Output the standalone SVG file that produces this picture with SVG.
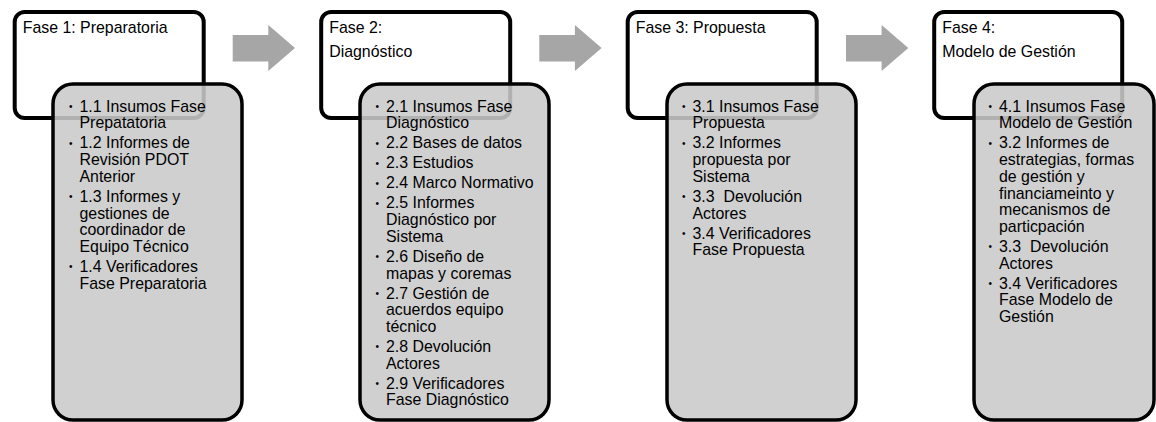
<svg xmlns="http://www.w3.org/2000/svg" width="1156" height="422" viewBox="0 0 1156 422">
<style>
.hdr{fill:#ffffff;stroke:#000000;stroke-width:4}
.lst{fill:#c9c9c9;fill-opacity:0.88;stroke:#000000;stroke-width:3.5}
text{font-family:"Liberation Sans",Arial,sans-serif;font-size:15.9px;fill:#000000;white-space:pre}
.b{font-size:10px}
.arr{fill:#a6a6a6;stroke:none}
</style>
<defs>
<polygon id="arrow" class="arr" points="0,35 35.6,35 35.6,25 62.3,48 35.6,71 35.6,61.5 0,61.5"/>
</defs>
<g id="connectors">
<use href="#arrow" x="232.7" y="0"/>
<use href="#arrow" x="539.3" y="0"/>
<use href="#arrow" x="846" y="0"/>
</g>
<g id="fase1">
<rect class="hdr" x="14.7" y="12" width="189" height="106" rx="10"/>
<text x="22.7" y="33">Fase 1: Preparatoria</text>
<rect class="lst" x="53" y="84" width="189" height="336" rx="20"/>
<text class="b" x="69" y="110">•</text><text x="79.5" y="111.7">1.1 Insumos Fase</text>
<text x="79.5" y="128.4">Prepatatoria</text>
<text class="b" x="69" y="146.6">•</text><text x="79.5" y="148.4">1.2 Informes de</text>
<text x="79.5" y="165.1">Revisión PDOT</text>
<text x="79.5" y="181.8">Anterior</text>
<text class="b" x="69" y="200">•</text><text x="79.5" y="201.8">1.3 Informes y</text>
<text x="79.5" y="218.5">gestiones de</text>
<text x="79.5" y="235.2">coordinador de</text>
<text x="79.5" y="251.9">Equipo Técnico</text>
<text class="b" x="69" y="270.1">•</text><text x="79.5" y="271.9">1.4 Verificadores</text>
<text x="79.5" y="288.6">Fase Preparatoria</text>
</g>
<g id="fase2">
<rect class="hdr" x="321.2" y="12" width="189" height="106" rx="10"/>
<text x="329.2" y="33">Fase 2:</text>
<text x="329.2" y="56.5">Diagnóstico</text>
<rect class="lst" x="360" y="84" width="189" height="336" rx="20"/>
<text class="b" x="375.5" y="110">•</text><text x="386" y="111.7">2.1 Insumos Fase</text>
<text x="386" y="128.4">Diagnóstico</text>
<text class="b" x="375.5" y="146.6">•</text><text x="386" y="148.4">2.2 Bases de datos</text>
<text class="b" x="375.5" y="166.6">•</text><text x="386" y="168.4">2.3 Estudios</text>
<text class="b" x="375.5" y="186.6">•</text><text x="386" y="188.4">2.4 Marco Normativo</text>
<text class="b" x="375.5" y="206.6">•</text><text x="386" y="208.4">2.5 Informes</text>
<text x="386" y="225.1">Diagnóstico por</text>
<text x="386" y="241.8">Sistema</text>
<text class="b" x="375.5" y="260">•</text><text x="386" y="261.8">2.6 Diseño de</text>
<text x="386" y="278.5">mapas y coremas</text>
<text class="b" x="375.5" y="296.7">•</text><text x="386" y="298.5">2.7 Gestión de</text>
<text x="386" y="315.2">acuerdos equipo</text>
<text x="386" y="331.9">técnico</text>
<text class="b" x="375.5" y="350.1">•</text><text x="386" y="351.9">2.8 Devolución</text>
<text x="386" y="368.6">Actores</text>
<text class="b" x="375.5" y="386.8">•</text><text x="386" y="388.6">2.9 Verificadores</text>
<text x="386" y="405.3">Fase Diagnóstico</text>
</g>
<g id="fase3">
<rect class="hdr" x="627.7" y="12" width="189" height="106" rx="10"/>
<text x="635.7" y="33">Fase 3: Propuesta</text>
<rect class="lst" x="667" y="84" width="189" height="336" rx="20"/>
<text class="b" x="682" y="110">•</text><text x="692.5" y="111.7">3.1 Insumos Fase</text>
<text x="692.5" y="128.4">Propuesta</text>
<text class="b" x="682" y="146.6">•</text><text x="692.5" y="148.4">3.2 Informes</text>
<text x="692.5" y="165.1">propuesta por</text>
<text x="692.5" y="181.8">Sistema</text>
<text class="b" x="682" y="200">•</text><text x="692.5" y="201.8">3.3  Devolución</text>
<text x="692.5" y="218.5">Actores</text>
<text class="b" x="682" y="236.7">•</text><text x="692.5" y="238.5">3.4 Verificadores</text>
<text x="692.5" y="255.2">Fase Propuesta</text>
</g>
<g id="fase4">
<rect class="hdr" x="934.2" y="12" width="188" height="106" rx="10"/>
<text x="942.2" y="33">Fase 4:</text>
<text x="942.2" y="56.5">Modelo de Gestión</text>
<rect class="lst" x="974" y="84" width="180" height="336" rx="20"/>
<text class="b" x="988.5" y="110">•</text><text x="999" y="111.7">4.1 Insumos Fase</text>
<text x="999" y="128.4">Modelo de Gestión</text>
<text class="b" x="988.5" y="146.6">•</text><text x="999" y="148.4">3.2 Informes de</text>
<text x="999" y="165.1">estrategias, formas</text>
<text x="999" y="181.8">de gestión y</text>
<text x="999" y="198.5">financiameinto y</text>
<text x="999" y="215.2">mecanismos de</text>
<text x="999" y="231.9">particpación</text>
<text class="b" x="988.5" y="250.1">•</text><text x="999" y="251.9">3.3  Devolución</text>
<text x="999" y="268.6">Actores</text>
<text class="b" x="988.5" y="286.8">•</text><text x="999" y="288.6">3.4 Verificadores</text>
<text x="999" y="305.3">Fase Modelo de</text>
<text x="999" y="322">Gestión</text>
</g>
</svg>
